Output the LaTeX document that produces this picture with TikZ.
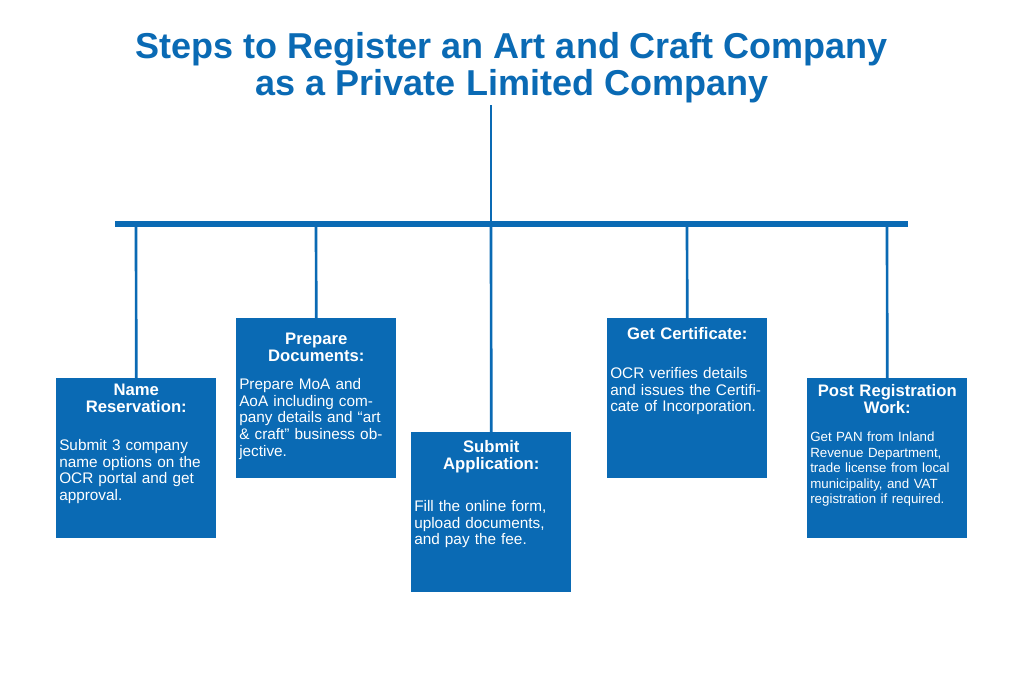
\documentclass[tikz,border=0pt]{standalone}
\usepackage{fontspec}
\setmainfont{Liberation Sans}
\usetikzlibrary{positioning}
\definecolor{stepblue}{HTML}{0A6AB4}
\tikzset{
  stepbox/.style={fill=stepblue,minimum width=160*0.75pt,minimum height=160*0.75pt,anchor=north west,inner sep=0pt},
  head/.style={text=white,font=\bfseries\fontsize{12.5}{12.5}\selectfont,align=center,text width=150*0.75pt,anchor=north,inner sep=0pt},
  body/.style={text=white,font=\fontsize{11.5}{12.6}\selectfont,align=left,text width=154*0.75pt,anchor=north,inner sep=0pt},
  link/.style={stepblue,line width=2pt}
}
\begin{document}
\begin{tikzpicture}[x=0.75pt,y=-0.75pt]
\useasboundingbox[fill=white] (0,0) rectangle (1024,683);
% title
\node[text=stepblue,font=\bfseries\fontsize{27}{28}\selectfont,align=center] (title) at (512,68)
  {Steps to Register an Art and Craft Company\\as a Private Limited Company};
\coordinate (top) at (491,105);
\coordinate (barl) at (115,224);
\coordinate (barr) at (908,224);
\draw[stepblue,line width=4pt] (barl) -- (barr);
\draw[link] (top) -- (491,224);
% boxes
\node[stepbox] (b1) at (56,378) {};
\node[stepbox] (b2) at (236,318) {};
\node[stepbox] (b3) at (411,432) {};
\node[stepbox] (b4) at (607,318) {};
\node[stepbox] (b5) at (807,378) {};
\foreach \b/\x in {b1/136,b2/316,b3/491,b4/687,b5/887}
  \draw[link] (\x,224) -- (\b.north);
% texts
\node[head] at ([yshift=-6*0.75pt]b1.north) {Name\\Reservation:};
\node[body] at ([yshift=-61*0.75pt]b1.north) {Submit 3 company name options on the OCR portal and get approval.};
\node[head] at ([yshift=-15*0.75pt]b2.north) {Prepare\\Documents:};
\node[body] at ([yshift=-60*0.75pt]b2.north) {Prepare MoA and AoA including company details and “art \& craft” business objective.};
\node[head] at ([yshift=-8*0.75pt]b3.north) {Submit\\Application:};
\node[body] at ([yshift=-68*0.75pt]b3.north) {Fill the online form, upload documents, and pay the fee.};
\node[head] at ([yshift=-9*0.75pt]b4.north) {Get Certificate:};
\node[body] at ([yshift=-49*0.75pt]b4.north) {OCR verifies details and issues the Certificate of Incorporation.};
\node[head] at ([yshift=-6*0.75pt]b5.north) {Post Registration\\Work:};
\node[body,font=\fontsize{10}{11.6}\selectfont] at ([yshift=-54*0.75pt]b5.north) {Get PAN from Inland Revenue Department, trade license from local municipality, and VAT registration if required.};
\end{tikzpicture}
\end{document}
